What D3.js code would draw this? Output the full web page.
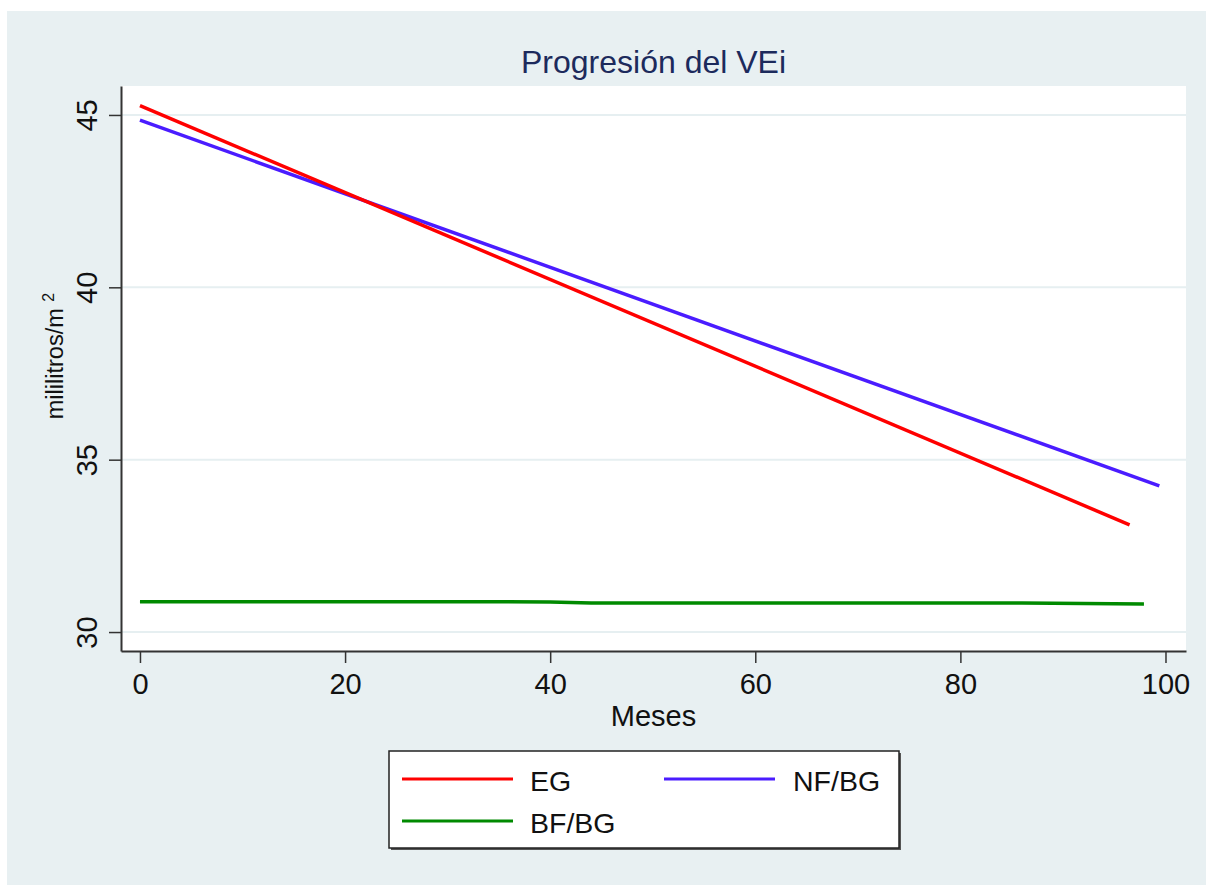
<!DOCTYPE html>
<html lang="es">
  <head>
    <meta charset="UTF-8">
    <script src="https://d3js.org/d3.v7.min.js"></script>
    <style>
      body { margin: 0; background: #fff; }
      svg text { font-family: Helvetica, "Liberation Sans", Arial, sans-serif; fill: #111; }
    </style>
  </head>
  <body>
    <div id="chart"></div>
    <script>
      // data
      const series = ["EG", "NF/BG", "BF/BG"];
      const colors = ["#ff0000", "#4a1cff", "#008a00"];
      const egMonths = [0, 96.5];
      const egVals = [45.27, 33.11];
      const nfMonths = [0, 99.4];
      const nfVals = [44.85, 34.24];
      const bfMonths = [0, 40, 44, 86, 97.9];
      const bfVals = [30.88, 30.875, 30.845, 30.84, 30.815];
      const xTicks = [0, 20, 40, 60, 80, 100];
      const yTicks = [30, 35, 40, 45];

      const W = 1206, H = 885;
      const plot = { left: 121, right: 1186, top: 86, bottom: 651 };

      const svg = d3.select("#chart").append("svg")
        .attr("width", W).attr("height", H);

      // graph region background
      svg.append("rect")
        .attr("x", 7).attr("y", 11)
        .attr("width", W - 7).attr("height", H - 11)
        .attr("fill", "#e8f0f2");

      // plot region
      svg.append("rect")
        .attr("x", plot.left).attr("y", plot.top)
        .attr("width", plot.right - plot.left).attr("height", plot.bottom - plot.top)
        .attr("fill", "#fff");

      const x = d3.scaleLinear().domain([-1.85, 102]).range([plot.left, plot.right]);
      const y = d3.scaleLinear().domain([29.45, 45.84]).range([plot.bottom, plot.top]);

      // grid lines
      svg.append("g").selectAll("line")
        .data(yTicks)
        .join("line")
        .attr("x1", plot.left).attr("x2", plot.right)
        .attr("y1", d => y(d)).attr("y2", d => y(d))
        .attr("stroke", "#e6eff1")
        .attr("stroke-width", 2);

      // lines
      const line = d3.line().x(d => x(d[0])).y(d => y(d[1]));
      const lineData = [
        d3.zip(egMonths, egVals),
        d3.zip(nfMonths, nfVals),
        d3.zip(bfMonths, bfVals)
      ];
      // green first, then blue, red on top
      [2, 1, 0].forEach(i => {
        svg.append("path")
          .datum(lineData[i])
          .attr("d", line)
          .attr("fill", "none")
          .attr("stroke", colors[i])
          .attr("stroke-width", 3.5);
      });

      // x axis
      const gx = svg.append("g")
        .attr("transform", `translate(0,${plot.bottom})`)
        .call(d3.axisBottom(x).tickValues(xTicks).tickSize(12).tickSizeOuter(0).tickPadding(10));
      gx.select(".domain").attr("stroke", "#333").attr("stroke-width", 2);
      gx.selectAll(".tick line").attr("stroke", "#333").attr("stroke-width", 1.5);
      gx.selectAll(".tick text").style("font-size", "29px").attr("fill", "#111");

      // y axis
      const gy = svg.append("g")
        .attr("transform", `translate(${plot.left},0)`)
        .call(d3.axisLeft(y).tickValues(yTicks).tickSize(12).tickSizeOuter(0));
      gy.select(".domain").attr("stroke", "#333").attr("stroke-width", 2);
      gy.selectAll(".tick line").attr("stroke", "#333").attr("stroke-width", 1.5);
      gy.selectAll(".tick text")
        .attr("x", null).attr("dy", null)
        .attr("transform", "translate(-24,0) rotate(-90)")
        .attr("text-anchor", "middle")
        .attr("fill", "#111")
        .style("font-size", "29px");

      // title
      svg.append("text")
        .attr("x", (plot.left + plot.right) / 2)
        .attr("y", 73)
        .attr("text-anchor", "middle")
        .style("font-size", "32px")
        .style("fill", "#1c2a5c")
        .text("Progresión del VEi");

      // x label
      svg.append("text")
        .attr("x", (plot.left + plot.right) / 2)
        .attr("y", 726)
        .attr("text-anchor", "middle")
        .style("font-size", "29px")
        .text("Meses");

      // y label
      const yl = svg.append("text")
        .attr("transform", "translate(63,356) rotate(-90)")
        .attr("text-anchor", "middle")
        .style("font-size", "23.5px");
      yl.append("tspan").text("mililitros/m ");
      yl.append("tspan").attr("dy", -9).style("font-size", "16px").text("2");

      // legend
      const lg = svg.append("g");
      lg.append("rect")
        .attr("x", 391).attr("y", 753)
        .attr("width", 510).attr("height", 97)
        .attr("fill", "#555");
      lg.append("rect")
        .attr("x", 389).attr("y", 751)
        .attr("width", 510).attr("height", 97)
        .attr("fill", "#fff")
        .attr("stroke", "#222")
        .attr("stroke-width", 1.5);

      const legPos = [[402, 779], [664, 779], [402, 821]];
      series.forEach((s, i) => {
        const [lx, ly] = legPos[i];
        lg.append("line")
          .attr("x1", lx).attr("x2", lx + 111)
          .attr("y1", ly).attr("y2", ly)
          .attr("stroke", colors[i])
          .attr("stroke-width", 3);
        lg.append("text")
          .attr("x", lx + (i === 1 ? 129 : 128))
          .attr("y", ly + 12)
          .style("font-size", "28.5px")
          .text(s);
      });
    </script>
  </body>
</html>
